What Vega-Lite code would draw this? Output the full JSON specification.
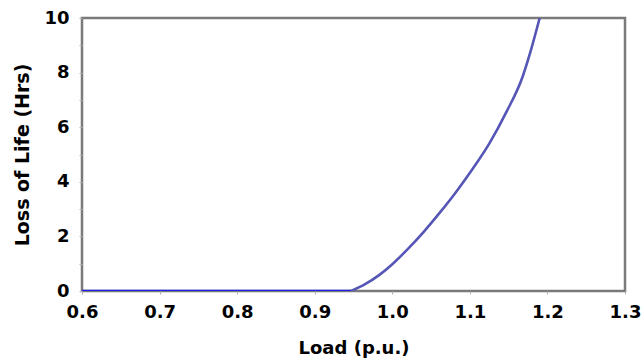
{
  "$schema": "https://vega.github.io/schema/vega-lite/v6.json",
  "width": 543,
  "height": 273,
  "autosize": "none",
  "padding": {"left": 82, "top": 18, "right": 16, "bottom": 67},
  "background": "white",
  "config": {
    "view": {"stroke": "#7a7a7a", "strokeWidth": 2.5},
    "axis": {
      "domain": false,
      "grid": false,
      "labelFont": "DejaVu Sans",
      "labelFontWeight": "bold",
      "labelFontSize": 18,
      "labelColor": "black",
      "titleFont": "DejaVu Sans",
      "titleFontWeight": "bold",
      "titleFontSize": 18,
      "titleColor": "black",
      "tickColor": "#b0b0b0",
      "tickSize": 3
    }
  },
  "data": {
    "values": [
      {"load": 0.6, "lol": 0, "seg": "flat"},
      {"load": 0.947, "lol": 0, "seg": "flat"},
      {"load": 0.947, "lol": 0, "seg": "rise"},
      {"load": 0.965, "lol": 0.25, "seg": "rise"},
      {"load": 0.983, "lol": 0.58, "seg": "rise"},
      {"load": 1.0, "lol": 0.98, "seg": "rise"},
      {"load": 1.018, "lol": 1.48, "seg": "rise"},
      {"load": 1.04, "lol": 2.15, "seg": "rise"},
      {"load": 1.061, "lol": 2.86, "seg": "rise"},
      {"load": 1.082, "lol": 3.62, "seg": "rise"},
      {"load": 1.103, "lol": 4.45, "seg": "rise"},
      {"load": 1.125, "lol": 5.4, "seg": "rise"},
      {"load": 1.147, "lol": 6.55, "seg": "rise"},
      {"load": 1.168, "lol": 7.85, "seg": "rise"},
      {"load": 1.179, "lol": 8.85, "seg": "rise"},
      {"load": 1.19, "lol": 10.0, "seg": "rise"}
    ]
  },
  "mark": {"type": "line", "strokeWidth": 2.6, "interpolate": "monotone", "clip": true},
  "encoding": {
    "x": {
      "field": "load",
      "type": "quantitative",
      "scale": {"domain": [0.6, 1.3], "nice": false, "zero": false},
      "axis": {
        "title": "Load (p.u.)",
        "values": [0.6, 0.7, 0.8, 0.9, 1.0, 1.1, 1.2, 1.3],
        "format": ".1f",
        "labelPadding": 9,
        "titlePadding": 18,
        "labelFlush": false
      }
    },
    "y": {
      "field": "lol",
      "type": "quantitative",
      "scale": {"domain": [0, 10], "nice": false},
      "axis": {
        "title": "Loss of Life (Hrs)",
        "titleFontSize": 19,
        "values": [0, 1, 2, 3, 4, 5, 6, 7, 8, 9, 10],
        "labelExpr": "datum.value % 2 == 0 ? datum.label : ''",
        "labelPadding": 10,
        "titlePadding": 11,
        "labelFlush": false
      }
    },
    "color": {
      "field": "seg",
      "type": "nominal",
      "scale": {"domain": ["flat", "rise"], "range": ["#1e1ee6", "#5656b6"]},
      "legend": null
    }
  }
}
